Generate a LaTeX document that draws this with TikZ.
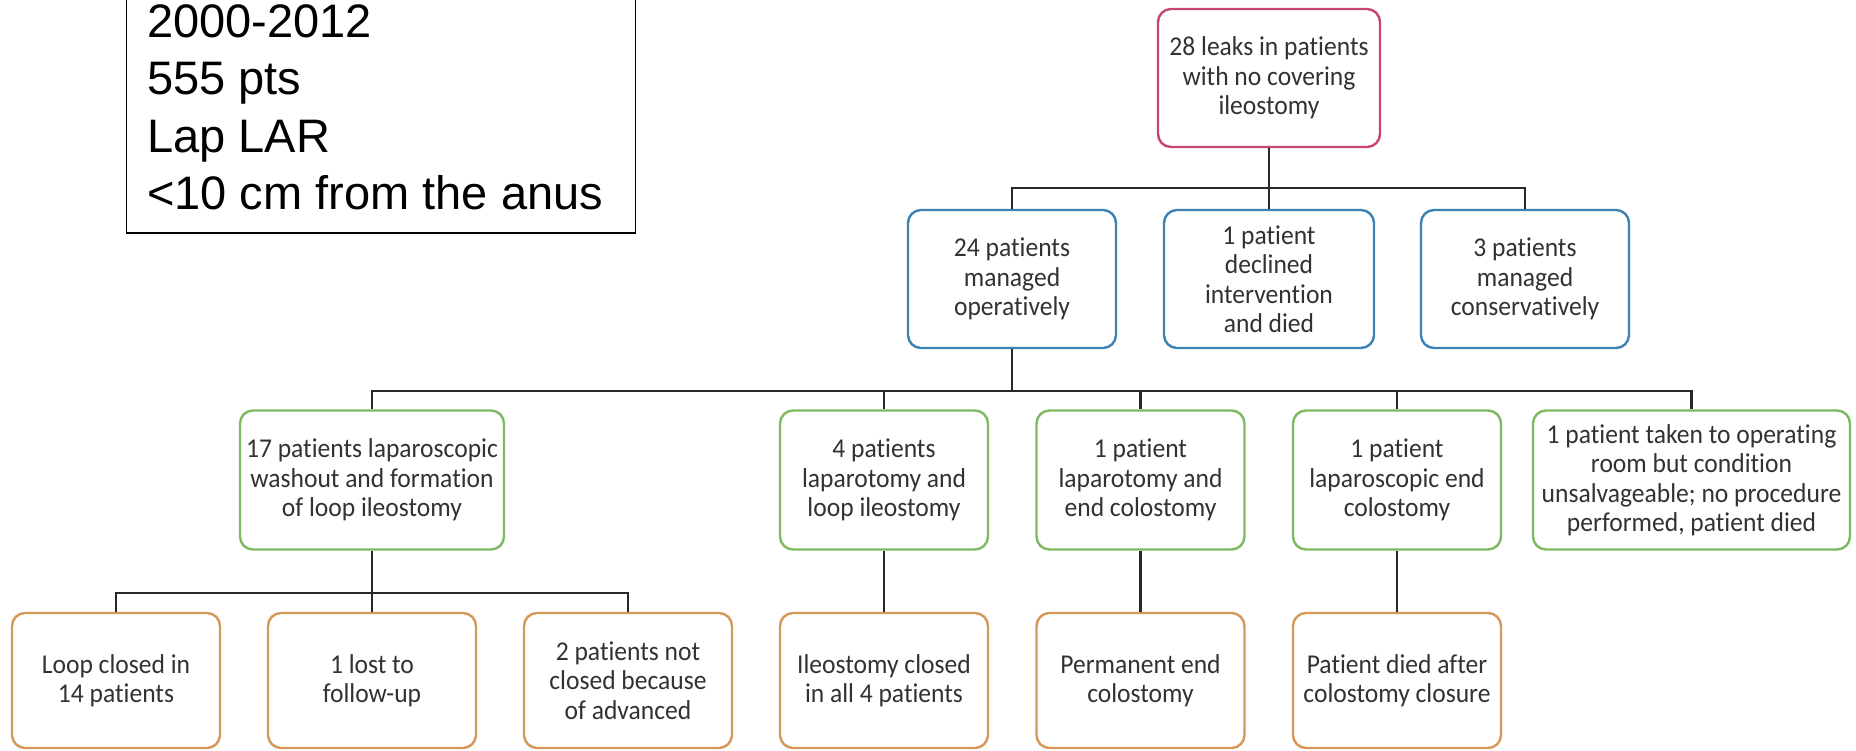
\documentclass[tikz,border=0pt]{standalone}
\usepackage{fontspec}
\setmainfont{Liberation Sans}
\newfontfamily\boxfont[Ligatures=NoCommon,FakeStretch=0.94]{Carlito}
\definecolor{rootpink}{RGB}{200,70,110}
\definecolor{midblue}{RGB}{60,130,180}
\definecolor{procgreen}{RGB}{125,185,95}
\definecolor{outorange}{RGB}{215,150,90}
\definecolor{linegray}{RGB}{40,40,40}
\definecolor{txtgray}{RGB}{50,50,50}
\begin{document}
\begin{tikzpicture}[x=1pt,y=-1pt,
  box/.style={draw, rounded corners=13pt, line width=2.4pt, fill=white,
    align=center, inner sep=0pt, text=txtgray,
    font=\boxfont\fontsize{27.2}{29.5}\selectfont,
    minimum width=208pt, minimum height=138pt},
  rootbox/.style={box, draw=rootpink, minimum width=222pt},
  midbox/.style={box, draw=midblue},
  procbox/.style={box, draw=procgreen, minimum height=139pt},
  outbox/.style={box, draw=outorange, minimum height=135pt},
  link/.style={draw=linegray, line width=2.2pt},
  infobox/.style={draw=black, line width=1.5pt, inner sep=0pt},
  infoline/.style={anchor=base west, inner sep=0pt,
    font=\fontsize{47}{57}\selectfont}
]
\useasboundingbox (0,0) rectangle (1856,750);

% study summary box
\node[infobox, minimum width=509pt, minimum height=270pt] (info) at (381.2,98) {};
\node[infoline] (info1) at (147,37.5) {2000-2012};
\node[infoline] (info2) at (147,94.5) {555 pts};
\node[infoline] (info3) at (147,152) {Lap LAR};
\node[infoline] (info4) at (147,209.5) {<10 cm from the anus};

% bar heights of the tree
\coordinate (bar1) at (0,188);
\coordinate (bar2) at (0,391);
\coordinate (bar3) at (0,593);

% boxes
\node[rootbox] (root) at (1269,78) {28 leaks in patients\\with no covering\\ileostomy};

\node[midbox] (m1) at (1012,279) {24 patients\\managed\\operatively};
\node[midbox, minimum width=210pt] (m2) at (1269,279) {1 patient\\declined\\intervention\\and died};
\node[midbox] (m3) at (1525,279) {3 patients\\managed\\conservatively};

\node[procbox, minimum width=264pt] (p1) at (372,480) {17 patients laparoscopic\\washout and formation\\of loop ileostomy};
\node[procbox] (p2) at (884,480) {4 patients\\laparotomy and\\loop ileostomy};
\node[procbox] (p3) at (1140.5,480) {1 patient\\laparotomy and\\end colostomy};
\node[procbox] (p4) at (1397,480) {1 patient\\laparoscopic end\\colostomy};
\node[procbox, minimum width=317pt] (p5) at (1691.5,480) {1 patient taken to operating\\room but condition\\unsalvageable; no procedure\\performed, patient died};

\node[outbox] (o1) at (116,680.5) {Loop closed in\\14 patients};
\node[outbox] (o2) at (372,680.5) {1 lost to\\follow-up};
\node[outbox] (o3) at (628,680.5) {2 patients not\\closed because\\of advanced};
\node[outbox] (o4) at (884,680.5) {Ileostomy closed\\in all 4 patients};
\node[outbox] (o5) at (1140.5,680.5) {Permanent end\\colostomy};
\node[outbox] (o6) at (1397,680.5) {Patient died after\\colostomy closure};

% connectors
\draw[link] (root.south) -- (m2.north);
\draw[link] (m1.north) -- (m1.north |- bar1) -- (m3.north |- bar1) -- (m3.north);

\draw[link] (m1.south) -- (m1.south |- bar2);
\draw[link] (p1.north) -- (p1.north |- bar2) -- (p5.north |- bar2) -- (p5.north);
\draw[link] (p2.north) -- (p2.north |- bar2);
\draw[link] (p3.north) -- (p3.north |- bar2);
\draw[link] (p4.north) -- (p4.north |- bar2);

\draw[link] (p1.south) -- (o2.north);
\draw[link] (o1.north) -- (o1.north |- bar3) -- (o3.north |- bar3) -- (o3.north);
\draw[link] (p2.south) -- (o4.north);
\draw[link] (p3.south) -- (o5.north);
\draw[link] (p4.south) -- (o6.north);
\end{tikzpicture}
\end{document}
